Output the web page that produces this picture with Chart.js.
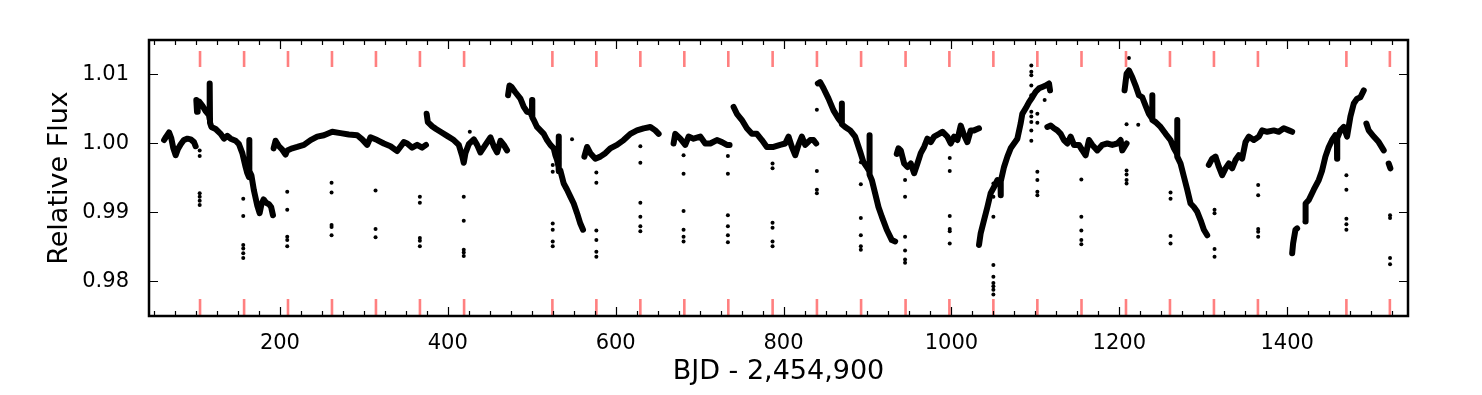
<!DOCTYPE html>
<html>
<head>
<meta charset="utf-8">
<script src="https://cdn.jsdelivr.net/npm/chart.js@4.4.1/dist/chart.umd.min.js"></script>
<style>
  body { margin: 0; background: #fff; }
  #wrap { width: 1482px; height: 395px; }
</style>
</head>
<body>
<div id="wrap"><canvas id="out" width="1482" height="395"></canvas></div>
<script>
// tick labels
const xTicks = [200, 400, 600, 800, 1000, 1200, 1400];
const yTicks = [0.98, 0.99, 1.00, 1.01];

// red markers (time of each dip group)
const markers = [104.8, 157.3, 209.6, 262.0, 314.4, 366.8, 419.4, 524.6, 577.0, 629.4,
  681.8, 734.2, 787.0, 839.8, 892.4, 945.4, 997.6, 1050.0, 1102.4, 1155.0, 1208.0,
  1260.4, 1312.8, 1365.2, 1470.6, 1522.4];

// light curve, one array per chunk [BJD, flux]
const q1 = [[62,1.0005],[64.5,1.0010],[67.9,1.0016],[70.5,1.0008],[73,0.9993],[75.8,0.9983],
  [78.5,0.9992],[81.8,0.9999],[85.5,1.0005],[89.8,1.0007],[93.7,1.0006],[97.6,1.0002],[99.6,0.9996]];
const q2 = [[100.4,1.0063],[101.2,1.0046],[102,1.0058],[103.6,1.0061],[107.5,1.0055],[111.5,1.0047],
  [115.5,1.0041],[116.2,1.0035],[116.4,1.0087],[116.7,1.0030],[118.3,1.0024],[123.4,1.0021],
  [129.4,1.0014],[133.3,1.0007],[137.3,1.0011],[141.3,1.0007],[147.2,1.0004],[151.2,0.9999],
  [155.2,0.9986],[159.1,0.9966],[161.1,0.9957],[163.2,0.9951],[163.4,1.0005],[163.7,0.9960],
  [166,0.9954],[169,0.9932],[173,0.9910],[175.8,0.9899],[178,0.9912],[180.5,0.9919],
  [183.5,0.9914],[187,0.9912],[189.5,0.9908],[191.7,0.9896]];
const q3 = [[192.5,0.9993],[194.8,1.0004],[198.8,0.9996],[202.8,0.9991],[206.7,0.9984],[208.7,0.9990],
  [214.7,0.9993],[220.6,0.9995],[228.6,0.9998],[236.5,1.0005],[244.4,1.0010],[252.4,1.0012],
  [262.3,1.0017],[272.2,1.0015],[282.1,1.0013],[292.1,1.0012],[298,1.0006],[304,0.9998],
  [307.9,1.0009],[315.9,1.0005],[323.8,1.0000],[331.7,0.9996],[339.7,0.9989],[347.6,1.0002],
  [351.6,1.0000],[357.5,0.9994],[363.5,0.9998],[369.4,0.9994],[374,0.9998]];
const q4 = [[374.8,1.0043],[376.2,1.0031],[381.3,1.0025],[386,1.0021],[391.3,1.0017],[399.2,1.0011],
  [407.1,1.0005],[413.1,0.9998],[417.1,0.9982],[419,0.9972],[421,0.9986],[425,0.9999],
  [431,1.0006],[434.9,0.9998],[438.9,0.9987],[444.8,0.9998],[450.8,1.0009],[454.8,0.9996],
  [458.7,0.9987],[462.7,1.0004],[466.7,0.9998],[470.6,0.9990]];
const q5 = [[471.8,1.0070],[473.5,1.0084],[476,1.0082],[480,1.0075],[486.5,1.0065],[490.5,1.0053],
  [494.4,1.0046],[498,1.0045],[500.2,1.0040],[500.4,1.0063],[500.7,1.0038],[502.4,1.0034],
  [506.3,1.0024],[510.3,1.0019],[514.3,1.0014],[518.2,1.0005],[522.2,0.9998],[526.2,0.9993],
  [528.2,0.9983],[530.2,0.9976],[532,0.9966],[532.1,1.0010],[532.3,0.9960],[534.1,0.9961],
  [538.1,0.9942],[542.1,0.9933],[546,0.9923],[550,0.9913],[554,0.9899],[557.9,0.9884],[561.1,0.9875]];
const q6 = [[562.7,0.9981],[565.9,0.9995],[569.8,0.9986],[575.8,0.9978],[581.7,0.9981],[587.7,0.9986],
  [593.6,0.9993],[601.6,0.9998],[609.5,1.0005],[617.5,1.0014],[625.4,1.0019],[633.3,1.0022],
  [641.3,1.0024],[647.2,1.0019],[651.2,1.0014]];
const q7 = [[669,1.0000],[671,1.0014],[677,1.0007],[682.9,0.9998],[686.9,1.0010],[692.8,1.0007],
  [700.8,1.0010],[706.7,1.0000],[712.7,1.0000],[720.6,1.0005],[726.6,1.0002],[732.5,0.9998],[735.7,0.9998]];
const q8 = [[740.5,1.0053],[744.4,1.0043],[750.4,1.0034],[756.3,1.0022],[762.3,1.0014],[768.2,1.0014],
  [774.2,1.0005],[780.1,0.9995],[788.1,0.9995],[796,0.9998],[802,1.0000],[806,1.0010],
  [809.9,0.9995],[813.9,0.9983],[817.8,0.9998],[821.8,1.0010],[825.8,0.9998],[831.7,1.0005],
  [835.7,1.0005],[838.9,1.0000]];
const q9 = [[840.9,1.0087],[843.6,1.0089],[847.6,1.0080],[853.6,1.0065],[859.5,1.0048],[865.5,1.0036],
  [869.2,1.0030],[869.4,1.0058],[869.6,1.0028],[873.4,1.0024],[879.4,1.0019],[885.3,1.0010],
  [891.3,0.9988],[895.2,0.9973],[899.2,0.9966],[902.2,0.9960],[902.4,1.0012],[902.6,0.9955],
  [905.2,0.9947],[909.1,0.9928],[913.1,0.9908],[917.1,0.9894],[923,0.9875],[929,0.9860],[933,0.9858]];
const q10 = [[934.9,0.9985],[936.9,0.9993],[939.7,0.9990],[943.7,0.9971],[947.6,0.9966],[951.6,0.9971],
  [955.6,0.9957],[959.5,0.9971],[963.5,0.9986],[967.5,0.9995],[971.4,1.0007],[975.4,1.0002],
  [979.4,1.0010],[985.3,1.0014],[989.3,1.0017],[995.2,1.0010],[999.2,1.0000],[1003.2,1.0010],
  [1007.1,1.0005],[1011.1,1.0026],[1015.1,1.0012],[1019,1.0002],[1023,1.0019],[1027,1.0019],[1032.9,1.0022]];
const q11 = [[1032.9,0.9853],[1034.9,0.9870],[1038.9,0.9889],[1042.9,0.9908],[1046.8,0.9928],
  [1050.8,0.9937],[1054.8,0.9947],[1058.5,0.9942],[1058.7,0.9925],[1058.9,0.9945],[1062.7,0.9966],
  [1066.7,0.9981],[1070.6,0.9993],[1074.6,1.0000],[1078.6,1.0007],[1082.5,1.0029],[1084.5,1.0043],
  [1088.5,1.0051],[1092.5,1.0060],[1096.4,1.0067],[1100.4,1.0075],[1104.4,1.0080],[1108.3,1.0082],
  [1112.3,1.0084],[1116.3,1.0087],[1117.5,1.0077]];
const q12 = [[1114.3,1.0024],[1118.3,1.0026],[1122.2,1.0022],[1126.2,1.0019],[1130.2,1.0014],
  [1134.1,1.0005],[1138.1,1.0000],[1142.1,1.0010],[1146,0.9998],[1152,0.9998],[1156,0.9990],
  [1159.9,0.9983],[1163.9,1.0005],[1167.9,0.9998],[1173.8,0.9990],[1179.8,0.9998],[1185.7,1.0000],
  [1191.7,0.9998],[1197.6,1.0000],[1201.6,1.0005],[1203.6,0.9990],[1208.7,1.0000]];
const q13 = [[1206.3,1.0077],[1208.7,1.0101],[1211.5,1.0106],[1215.5,1.0096],[1219.4,1.0084],
  [1223.4,1.0070],[1227.4,1.0067],[1231.3,1.0055],[1235.3,1.0043],[1239.1,1.0036],[1239.3,1.0070],
  [1239.5,1.0034],[1243.3,1.0031],[1249.2,1.0024],[1255.2,1.0014],[1261.1,1.0005],[1265.1,0.9993],
  [1268.8,0.9985],[1269,1.0034],[1269.2,0.9981],[1273,0.9971],[1277,0.9952],[1281,0.9933],
  [1284.9,0.9913],[1288.9,0.9908],[1292.9,0.9901],[1296.8,0.9889],[1300.8,0.9875],[1304.8,0.9867]];
const q14 = [[1306.7,0.9969],[1310.7,0.9978],[1314.7,0.9981],[1318.7,0.9966],[1322.6,0.9954],
  [1326.6,0.9964],[1330.6,0.9971],[1334.5,0.9964],[1338.5,0.9976],[1342.5,0.9983],[1346.4,0.9978],
  [1350.4,1.0002],[1354.4,1.0010],[1360.3,1.0005],[1366.3,1.0010],[1370.2,1.0019],[1376.2,1.0017],
  [1384.1,1.0019],[1390.1,1.0017],[1396,1.0022],[1402,1.0019],[1406,1.0017]];
const q15a = [[1406,0.9841],[1407.1,0.9855],[1409.9,0.9875],[1411.9,0.9877]];
const q15b = [[1421.8,0.9887],[1422,0.9913],[1425.8,0.9918],[1431.7,0.9933],[1437.7,0.9947],
  [1441.7,0.9961],[1445.6,0.9981],[1449.6,0.9995],[1453.6,1.0005],[1457.5,1.0012],[1459.3,1.0010],
  [1459.5,0.9978],[1459.7,1.0008],[1463.5,1.0019],[1467.5,1.0024],[1471.4,1.0010],[1475.4,1.0039],
  [1479.4,1.0058],[1483.3,1.0065],[1487.3,1.0067],[1491.3,1.0077]];
const q16 = [[1494.4,1.0029],[1497.2,1.0019],[1503.2,1.0010],[1509.1,1.0002],[1515.1,0.9990]];
const q17 = [[1521,0.9971],[1523,0.9964]];

// isolated low/high points
const outliers = [
  [104.4,0.9990],[104.4,0.9982],[104.4,0.9928],[104.4,0.9923],[104.4,0.9917],[104.4,0.9911],
  [156.3,0.9920],[156.3,0.9895],[156.3,0.9853],[156.3,0.9848],[156.3,0.9841],[156.3,0.9834],
  [208.7,0.9930],[208.7,0.9904],[208.7,0.9865],[208.7,0.9860],[208.7,0.9851],
  [261.5,0.9943],[261.5,0.9929],[261.5,0.9882],[261.5,0.9879],[261.5,0.9867],
  [313.9,0.9932],[313.9,0.9876],[313.9,0.9864],
  [366.7,0.9923],[366.7,0.9914],[366.7,0.9863],[366.7,0.9859],[366.7,0.9851],
  [419.0,0.9923],[419.0,0.9888],[419.0,0.9846],[419.0,0.9842],[419.0,0.9837],[426.2,1.0017],
  [525.0,0.9969],[525.0,0.9959],[525.0,0.9884],[525.0,0.9875],[525.0,0.9858],[525.0,0.9851],
  [548.0,1.0006],
  [577.0,0.9958],[577.0,0.9943],[577.0,0.9874],[577.0,0.9860],[577.0,0.9843],[577.0,0.9836],
  [629.4,0.9996],[629.4,0.9972],[629.4,0.9914],[629.4,0.9894],[629.4,0.9880],[629.4,0.9873],
  [680.9,0.9983],[680.9,0.9956],[680.9,0.9902],[680.9,0.9875],[680.9,0.9865],[680.9,0.9858],
  [733.7,0.9982],[733.7,0.9956],[733.7,0.9896],[733.7,0.9880],[733.7,0.9867],[733.7,0.9857],
  [786.9,0.9971],[786.9,0.9964],[786.9,0.9885],[786.9,0.9878],[786.9,0.9858],[786.9,0.9851],
  [839.7,1.0049],[839.7,0.9960],[839.7,0.9933],[839.7,0.9928],
  [892.1,0.9973],[892.1,0.9941],[892.1,0.9892],[892.1,0.9867],[892.1,0.9851],[892.1,0.9846],
  [944.8,0.9947],[944.8,0.9923],[944.8,0.9865],[944.8,0.9845],[944.8,0.9832],[944.8,0.9827],
  [998.0,0.9979],[998.0,0.9960],[998.0,0.9895],[998.0,0.9876],[998.0,0.9873],[998.0,0.9855],
  [1050.0,0.9942],[1050.0,0.9923],[1050.0,0.9894],[1050.0,0.9824],[1050.0,0.9807],[1050.0,0.9798],
  [1050.0,0.9793],[1050.0,0.9788],[1050.0,0.9781],
  [1095.2,1.0113],[1095.2,1.0104],[1095.2,1.0099],[1095.2,1.0084],[1095.2,1.0070],[1095.2,1.0046],
  [1095.2,1.0039],[1095.2,1.0031],[1095.2,1.0019],[1095.2,1.0004],
  [1102.4,1.0043],[1102.4,1.0030],[1102.4,0.9959],[1102.4,0.9947],[1102.4,0.9930],[1102.4,0.9925],
  [1111.1,1.0063],
  [1154.8,0.9948],[1154.8,0.9894],[1154.8,0.9874],[1154.8,0.9860],[1154.8,0.9854],
  [1208.7,1.0028],[1208.7,0.9961],[1208.7,0.9955],[1208.7,0.9947],[1208.7,0.9942],
  [1211.5,1.0124],[1222.6,1.0027],
  [1261.1,0.9929],[1261.1,0.9920],[1261.1,0.9866],[1261.1,0.9855],
  [1313.5,0.9904],[1313.5,0.9899],[1313.5,0.9847],[1313.5,0.9836],
  [1365.5,0.9940],[1365.5,0.9925],[1365.5,0.9876],[1365.5,0.9872],[1365.5,0.9865],
  [1470.6,0.9954],[1470.6,0.9933],[1470.6,0.9891],[1470.6,0.9883],[1470.6,0.9875],
  [1522.6,0.9896],[1522.6,0.9892],[1522.6,0.9834],[1522.6,0.9825]
];

const chunks = [q1, q2, q3, q4, q5, q6, q7, q8, q9, q10, q11, q12, q13, q14, q15a, q15b, q16, q17];

const toXY = arr => arr.map(p => ({ x: p[0], y: p[1] }));

// red marks: short bars at the bottom and the top of the axes
const markerPts = [];
for (const m of markers) {
  markerPts.push({ x: m, y: 0.975 }, { x: m, y: 0.97745 }, { x: m, y: null });
  markerPts.push({ x: m, y: 1.0111 }, { x: m, y: 1.0134 }, { x: m, y: null });
}

const datasets = [{
  data: markerPts,
  showLine: true,
  spanGaps: false,
  borderColor: "rgb(255,128,128)",
  borderWidth: 2.6,
  pointRadius: 0,
  borderCapStyle: "butt"
}];
for (const c of chunks) {
  datasets.push({
    data: toXY(c),
    showLine: true,
    borderColor: "#000",
    borderWidth: 6,
    borderCapStyle: "round",
    borderJoinStyle: "round",
    pointRadius: 0,
    tension: 0
  });
}
datasets.push({
  data: toXY(outliers),
  showLine: false,
  pointRadius: 2,
  pointBorderWidth: 0,
  pointBackgroundColor: "#000",
  backgroundColor: "#000"
});

// inward ticks and frame like the original plot
const frame = {
  id: "frame",
  afterDatasetsDraw(chart) {
    const { ctx, chartArea: a, scales: { x, y } } = chart;
    ctx.save();
    ctx.strokeStyle = "#000";
    ctx.lineWidth = 1.2;
    ctx.beginPath();
    for (let v = 50; v <= 1525; v += 25) {
      const px = Math.round(x.getPixelForValue(v)) + 0.5;
      const len = xTicks.includes(v) ? 9 : 5;
      ctx.moveTo(px, a.bottom); ctx.lineTo(px, a.bottom - len);
      ctx.moveTo(px, a.top); ctx.lineTo(px, a.top + len);
    }
    for (const v of yTicks) {
      const py = Math.round(y.getPixelForValue(v)) + 0.5;
      ctx.moveTo(a.left, py); ctx.lineTo(a.left + 9, py);
      ctx.moveTo(a.right, py); ctx.lineTo(a.right - 9, py);
    }
    ctx.stroke();
    ctx.lineWidth = 2.5;
    ctx.strokeRect(a.left, a.top, a.right - a.left, a.bottom - a.top);
    ctx.restore();
  }
};

const font = "'DejaVu Sans', sans-serif";
Chart.defaults.font.family = font;
Chart.defaults.color = "#000";

new Chart(document.getElementById("out").getContext("2d"), {
  type: "scatter",
  data: { datasets },
  options: {
    responsive: false,
    animation: false,
    devicePixelRatio: 1,
    layout: { padding: { left: 0, top: 40, right: 74, bottom: 0 } },
    plugins: { legend: { display: false }, tooltip: { enabled: false } },
    scales: {
      x: {
        type: "linear",
        min: 44,
        max: 1544,
        afterBuildTicks: s => { s.ticks = xTicks.map(v => ({ value: v })); },
        afterFit: s => { s.height = 79; },
        grid: { display: false },
        border: { display: false },
        ticks: { font: { size: 21 }, color: "#000", padding: 7, maxRotation: 0, autoSkip: false,
          callback: v => String(v) },
        title: { display: true, text: "BJD - 2,454,900", font: { size: 27 }, color: "#000",
          padding: { top: 0, bottom: 7 } }
      },
      y: {
        min: 0.975,
        max: 1.015,
        afterBuildTicks: s => { s.ticks = yTicks.map(v => ({ value: v })); },
        afterFit: s => { s.width = 149; },
        grid: { display: false },
        border: { display: false },
        ticks: { font: { size: 21 }, color: "#000", padding: 12, callback: v => v.toFixed(2) },
        title: { display: true, text: "Relative Flux", font: { size: 27 }, color: "#000",
          padding: { top: 44, bottom: 0 } }
      }
    }
  },
  plugins: [frame]
});
</script>
</body>
</html>
